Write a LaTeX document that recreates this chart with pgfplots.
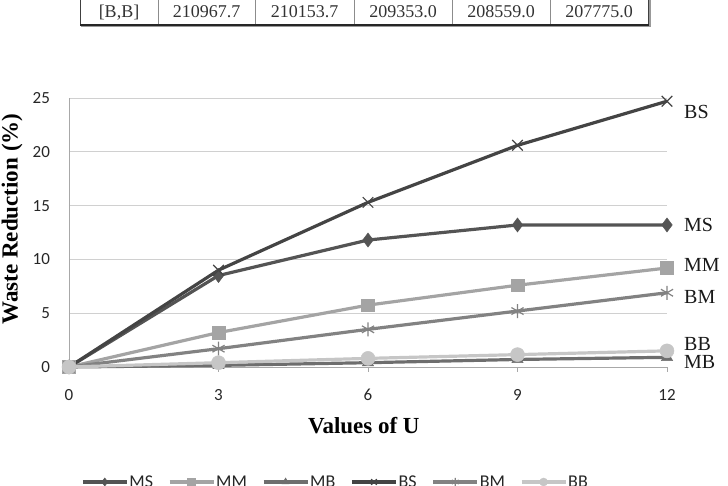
\documentclass[border=0pt]{standalone}
\usepackage{fontspec}
\setmainfont{Liberation Serif}
\newfontfamily\calibri{Carlito}
\usepackage{pgfplots}
\pgfplotsset{compat=1.18}

\definecolor{cMS}{HTML}{545454}
\definecolor{cMM}{HTML}{A4A4A4}
\definecolor{cMB}{HTML}{6E6E6E}
\definecolor{cBS}{HTML}{444444}
\definecolor{cBM}{HTML}{828282}
\definecolor{cBB}{HTML}{C6C6C6}
\definecolor{gridgray}{HTML}{D0D0D0}
\definecolor{axisgray}{HTML}{A8A8A8}

\begin{document}
\begin{tikzpicture}[x=1pt,y=1pt]
\path[use as bounding box] (0,0) rectangle (728,486);

% last row of the cost table above the chart
\begin{scope}
\clip (0,0) rectangle (728,486);
\foreach \xx in {158,255,354,452,550}
  \draw[line width=0.7pt, black!45] (\xx,461) -- (\xx,490);
\draw[line width=1pt, black!75] (80,461) -- (80,490);
\draw[line width=1pt, black!75] (648,461) -- (648,490);
\draw[line width=1.3pt, black!40] (650,459) -- (650,488);
\draw[line width=1.3pt, black!40] (81,459.2) -- (650,459.2);
\draw[line width=1.4pt, black!85] (80,461) -- (648.5,461);
\begin{scope}[every node/.style={font=\fontsize{18}{18}\selectfont, text=black!80, anchor=base}]
\node at (119,468) {[B,B]};
\node at (206.5,468) {210967.7};
\node at (304.5,468) {210153.7};
\node at (403,468) {209353.0};
\node at (501,468) {208559.0};
\node at (599,468) {207775.0};
\end{scope}
\end{scope}

\begin{axis}[
  at={(69pt,119pt)}, anchor=south west,
  scale only axis, width=598pt, height=269pt,
  xmin=0, xmax=12, ymin=0, ymax=25,
  clip=false,
  xtick={0,3,6,9,12}, ytick={0,5,10,15,20,25},
  ymajorgrids, grid style={gridgray, line width=0.9pt},
  axis x line=bottom, axis y line=left,
  axis line style={-, axisgray, line width=0.9pt},
  xtick align=outside, major tick length=5pt,
  xtick style={axisgray, line width=0.9pt},
  ytick style={draw=none},
  /pgf/number format/assume math mode=true,
  tick label style={font=\calibri\fontsize{17}{17}\selectfont, text=black!85},
  x tick label style={anchor=center, yshift=-23pt},
  y tick label style={anchor=east, xshift=-13pt},
  xlabel={\textbf{Values of U}},
  ylabel={\textbf{Waste Reduction (\%)}},
  x label style={at={(axis description cs:0.493,0)}, anchor=center, yshift=-59pt, font=\fontsize{23}{23}\selectfont},
  y label style={at={(axis description cs:0,0.55)}, anchor=center, yshift=57pt, font=\fontsize{23}{23}\selectfont},
  every axis plot/.append style={line width=3.2pt},
  legend columns=6,
  legend style={at={(axis description cs:0.02,-0.4275)}, anchor=west, draw=none, fill=none,
    font=\calibri\fontsize{18}{18}\selectfont, inner sep=0pt,
    nodes={inner sep=1pt, text=black!85},
    /tikz/every even column/.append style={column sep=14pt}},
  legend image code/.code={%
    \draw[mark repeat=2, mark phase=2, mark size=4pt] plot coordinates {(0pt,0pt) (22pt,0pt) (44pt,0pt)};},
]
% MS
\addplot[color=cMS, mark=diamond*, mark size=7pt, mark options={solid, fill=cMS, line width=0.5pt}]
  coordinates {(0,0) (3,8.5) (6,11.8) (9,13.2) (12,13.2)};
\addlegendentry{MS}
% MM
\addplot[color=cMM, mark=square*, mark size=6.3pt, mark options={solid, fill=cMM, line width=0.5pt}]
  coordinates {(0,0) (3,3.2) (6,5.75) (9,7.6) (12,9.2)};
\addlegendentry{MM}
% MB
\addplot[color=cMB, mark=triangle*, mark size=6.5pt, mark options={solid, fill=cMB, line width=0.5pt}]
  coordinates {(0,0) (3,0.15) (6,0.4) (9,0.7) (12,0.9)};
\addlegendentry{MB}
% BS
\addplot[color=cBS, mark=x, mark size=7.5pt, mark options={solid, line width=1.2pt}]
  coordinates {(0,0) (3,9.0) (6,15.3) (9,20.6) (12,24.7)};
\addlegendentry{BS}
% BM
\addplot[color=cBM, mark=asterisk, mark size=7pt, mark options={solid, line width=1.2pt}]
  coordinates {(0,0) (3,1.7) (6,3.5) (9,5.2) (12,6.9)};
\addlegendentry{BM}
% BB
\addplot[color=cBB, mark=*, mark size=7pt, mark options={solid, fill=cBB, line width=0.5pt}]
  coordinates {(0,0) (3,0.4) (6,0.8) (9,1.15) (12,1.5)};
\addlegendentry{BB}

% series names beside the last points
\begin{scope}[every node/.style={anchor=west, inner sep=0pt, xshift=17pt, font=\fontsize{20}{20}\selectfont, text=black!90}]
\node at (axis cs:12,23.7) {BS};
\node at (axis cs:12,13.2) {MS};
\node at (axis cs:12,9.5) {MM};
\node at (axis cs:12,6.5) {BM};
\node at (axis cs:12,2.1) {BB};
\node at (axis cs:12,0.45) {MB};
\end{scope}
\end{axis}
\end{tikzpicture}
\end{document}
